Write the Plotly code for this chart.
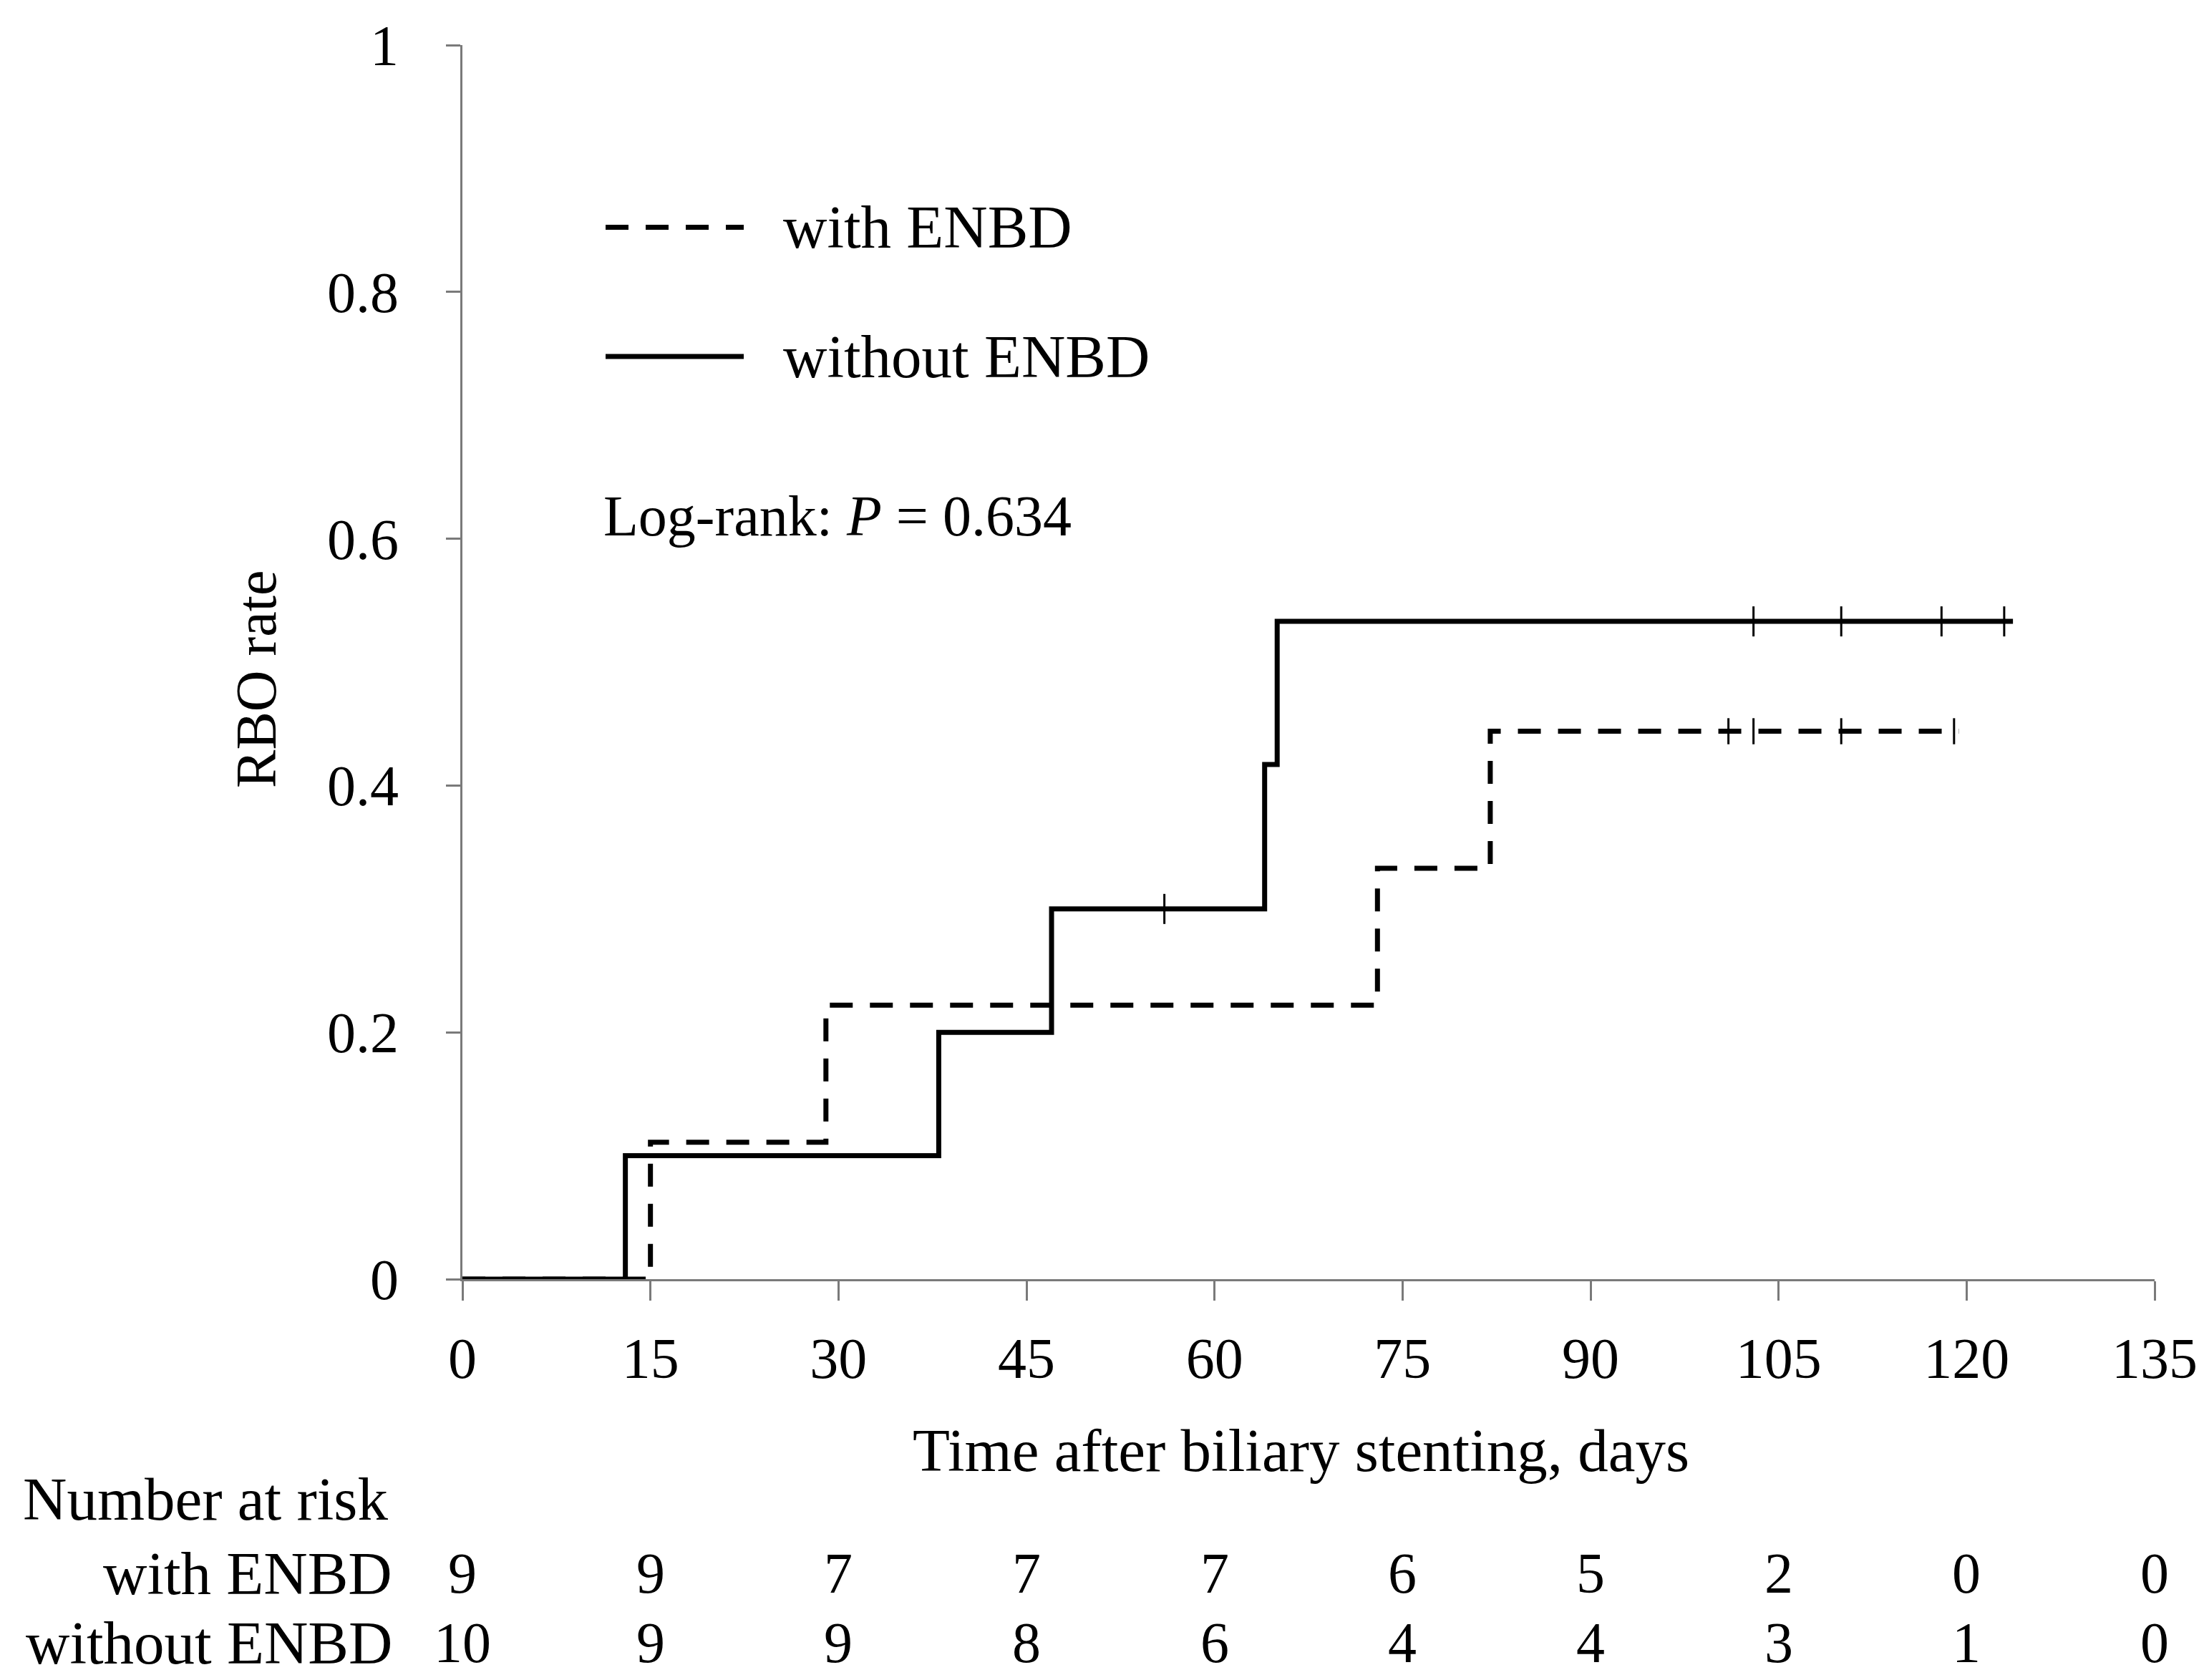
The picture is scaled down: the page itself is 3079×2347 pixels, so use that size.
import plotly.graph_objects as go

# ---- data ----
tick_days = [0, 15, 30, 45, 60, 75, 90, 105, 120, 135]
y_ticks = [0, 0.2, 0.4, 0.6, 0.8, 1]
y_tick_labels = ["0", "0.2", "0.4", "0.6", "0.8", "1"]

with_time = [0, 15, 29, 73, 82, 119.4]
with_rate = [0, 0.111, 0.222, 0.333, 0.444, 0.444]
with_cens_time = [101, 103, 110, 119]
with_cens_rate = [0.444, 0.444, 0.444, 0.444]

without_time = [0, 13, 38, 47, 64, 65, 123.7]
without_rate = [0, 0.1, 0.2, 0.3, 0.417, 0.533, 0.533]
without_cens_time = [56, 103, 110, 118, 123]
without_cens_rate = [0.3, 0.533, 0.533, 0.533, 0.533]

risk_with = [9, 9, 7, 7, 7, 6, 5, 2, 0, 0]
risk_without = [10, 9, 9, 8, 6, 4, 4, 3, 1, 0]

group_labels = ["with ENBD", "without ENBD"]
p_text = "Log-rank: <i>P</i> = 0.634"
x_title = "Time after biliary stenting, days"
y_title = "RBO rate"

FONT = "Liberation Serif"
FS = 80     # numbers
FT = 85     # word labels
W, H = 3079, 2347
L, R, T, B = 638, 77, 51, 568
pw, ph = W - L - R, H - T - B


def px_x(p):
    return (p - L) / pw


def px_y(p):
    return (H - B - p) / ph


fig = go.Figure()
fig.add_trace(go.Scatter(x=with_time, y=with_rate, mode="lines", line_shape="hv",
                         line=dict(color="black", width=7, dash="32px,24px"),
                         cliponaxis=False, showlegend=False))
fig.add_trace(go.Scatter(x=without_time, y=without_rate, mode="lines", line_shape="hv",
                         line=dict(color="black", width=7),
                         cliponaxis=False, showlegend=False))
fig.add_trace(go.Scatter(x=with_cens_time, y=with_cens_rate, mode="markers",
                         marker=dict(symbol="line-ns", size=26, line=dict(color="black", width=3)),
                         showlegend=False))
fig.add_trace(go.Scatter(x=without_cens_time, y=without_cens_rate, mode="markers",
                         marker=dict(symbol="line-ns", size=30, line=dict(color="black", width=3)),
                         showlegend=False))

annotations = []
# legend
leg_y = [px_y(306), px_y(487)]
shapes = [
    dict(type="line", xref="paper", yref="paper", x0=px_x(838), x1=px_x(1031), y0=leg_y[0], y1=leg_y[0],
         line=dict(color="black", width=7, dash="32px,24px")),
    dict(type="line", xref="paper", yref="paper", x0=px_x(838), x1=px_x(1031), y0=leg_y[1], y1=leg_y[1],
         line=dict(color="black", width=7)),
]
for lbl, yy in zip(group_labels, leg_y):
    annotations.append(dict(text=lbl, xref="paper", yref="paper", x=px_x(1084), y=yy,
                            xanchor="left", yanchor="middle", showarrow=False,
                            font=dict(size=FT)))
annotations.append(dict(text=p_text, xref="paper", yref="paper", x=px_x(833), y=px_y(711),
                        xanchor="left", yanchor="middle", showarrow=False, font=dict(size=FS)))
# axis titles
annotations.append(dict(text=y_title, xref="paper", yref="paper", x=px_x(350), y=px_y(939),
                        textangle=-90, xanchor="center", yanchor="middle", showarrow=False,
                        font=dict(size=FS)))
annotations.append(dict(text=x_title, xref="paper", yref="paper", x=px_x(1809), y=px_y(2019),
                        xanchor="center", yanchor="middle", showarrow=False, font=dict(size=FT)))
# number at risk table
annotations.append(dict(text="Number at risk", xref="paper", yref="paper", x=px_x(22), y=px_y(2087),
                        xanchor="left", yanchor="middle", showarrow=False, font=dict(size=FT)))
row_y = [px_y(2191), px_y(2288)]
for lbl, yy, vals in zip(group_labels, row_y, [risk_with, risk_without]):
    annotations.append(dict(text=lbl, xref="paper", yref="paper", x=px_x(542), y=yy,
                            xanchor="right", yanchor="middle", showarrow=False, font=dict(size=FT)))
    for d, v in zip(tick_days, vals):
        annotations.append(dict(text=str(v), xref="x", yref="paper", x=d, y=yy,
                                xanchor="center", yanchor="middle", showarrow=False,
                                font=dict(size=FS)))

fig.update_layout(
    width=W, height=H,
    margin=dict(l=L, r=R, t=T, b=B),
    paper_bgcolor="white", plot_bgcolor="white",
    font=dict(family=FONT, size=FS, color="black"),
    annotations=annotations, shapes=shapes,
    xaxis=dict(range=[0, 135], tickvals=tick_days, ticks="outside", ticklen=27, tickwidth=3,
               tickcolor="#7a7a7a", showline=True, linecolor="#7a7a7a", linewidth=3,
               showgrid=False, zeroline=False, ticklabelstandoff=12,
               tickfont=dict(family=FONT, size=FS)),
    yaxis=dict(range=[0, 1], tickvals=y_ticks, ticktext=y_tick_labels, ticks="outside",
               ticklen=20, tickwidth=3, tickcolor="#7a7a7a", showline=True, linecolor="#7a7a7a",
               linewidth=3, showgrid=False, zeroline=False, ticklabelstandoff=50,
               tickfont=dict(family=FONT, size=FS)),
)

fig.write_html("out.html")
